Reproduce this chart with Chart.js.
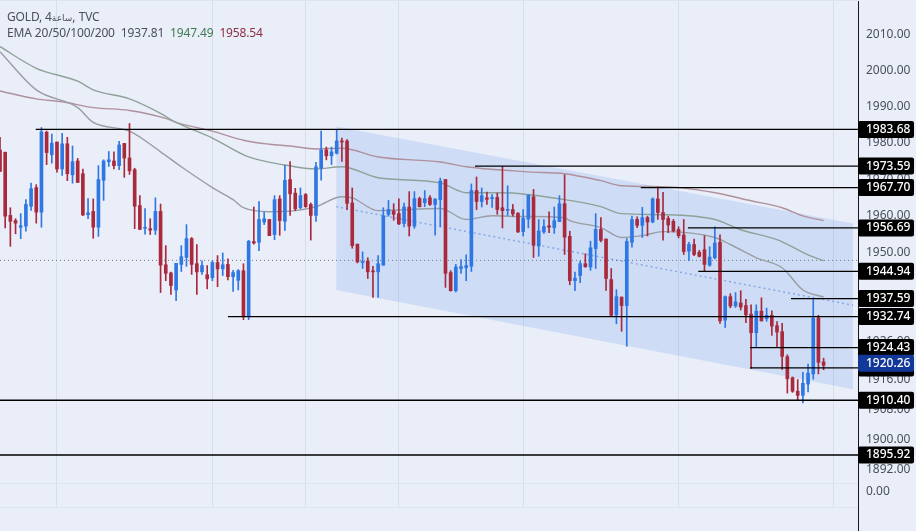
<!DOCTYPE html>
<html>
<head>
<meta charset="utf-8">
<title>GOLD</title>
<script src="https://cdn.jsdelivr.net/npm/chart.js@4"></script>
<style>
    html, body { margin: 0; padding: 0; background: #e9eef9; overflow: hidden; }
    #wrap { position: relative; width: 916px; height: 531px; }
    canvas { display: block; }
    .head { position: absolute; left: 7px; font: 12px "Noto Sans", sans-serif; color: #4a4f5c; white-space: pre; letter-spacing: -0.15px; }
    .head small { font-size: 9px; font-family: "DejaVu Sans", sans-serif; }
</style>
</head>
<body>
<div id="wrap">
    <canvas id="goldChart" width="916" height="531"></canvas>
    <div class="head" style="top:8px">GOLD, 4<small>ساعة</small>, TVC</div>
    <div class="head" style="top:24px">EMA 20/50/100/200  1937.81  <span style="color:#3f7a52">1947.49</span>  <span style="color:#8b2f44">1958.54</span></div>
</div>
<script>
// candles
const opens = [1978.0,1977.4,1960.1,1958.7,1956.9,1957.2,1962.6,1967.7,1961.0,1982.9,1976.7,1980.2,1972.8,1979.7,1971.2,1975.0,
    1971.5,1960.3,1961.2,1956.9,1969.7,1974.8,1975.0,1973.7,1979.8,1975.8,1972.6,1962.8,1956.6,1956.5,1956.1,1961.2,
    1946.7,1944.5,1939.9,1946.8,1948.7,1953.8,1947.0,1944.8,1944.0,1943.2,1947.3,1945.6,1946.8,1943.5,1942.5,1945.1,
    1932.7,1953.0,1952.8,1958.3,1959.0,1954.9,1964.6,1958.5,1969.9,1966.2,1962.2,1965.8,1963.1,1960.1,1973.0,1978.0,
    1976.4,1977.1,1980.5,1980.5,1963.5,1952.3,1947.3,1947.7,1945.0,1944.8,1946.6,1960.4,1961.3,1960.6,1957.9,1962.4,
    1957.2,1964.7,1963.6,1964.9,1963.1,1964.4,1969.9,1944.6,1939.7,1945.7,1945.9,1946.3,1966.9,1963.9,1964.9,1964.7,
    1965.0,1962.2,1961.5,1961.7,1960.7,1955.7,1959.1,1965.2,1951.8,1955.6,1957.3,1956.8,1958.4,1963.3,1954.4,1942.4,
    1943.8,1947.0,1946.1,1951.1,1956.3,1953.7,1942.7,1933.2,1938.0,1935.7,1952.8,1959.0,1957.4,1959.5,1958.3,1964.6,
    1960.9,1959.3,1958.5,1956.3,1954.8,1950.4,1952.2,1950.1,1950.8,1946.6,1948.6,1952.8,1931.8,1938.1,1935.6,1936.4,
    1935.7,1933.4,1928.4,1934.2,1932.2,1933.1,1930.3,1928.7,1922.0,1916.4,1912.8,1911.7,1914.7,1917.4,1932.4,1920.6];
const highs = [1981.5,1977.4,1962.2,1959.2,1960.6,1964.4,1968.9,1968.5,1984.2,1983.2,1982.4,1980.2,1982.6,1981.5,1979.1,1975.7,
    1972.8,1964.7,1964.6,1973.7,1975.3,1977.6,1977.5,1980.4,1979.8,1985.3,1973.0,1965.5,1962.0,1959.2,1964.9,1963.2,
    1951.9,1944.7,1947.1,1951.9,1957.6,1954.1,1952.2,1947.8,1946.5,1947.8,1949.2,1949.9,1948.3,1945.2,1945.4,1947.0,
    1953.3,1962.4,1963.9,1961.0,1959.0,1965.5,1965.5,1973.8,1974.8,1967.5,1967.6,1966.1,1963.5,1974.6,1983.2,1978.8,
    1978.8,1983.7,1981.3,1980.9,1967.6,1952.3,1950.2,1948.6,1946.3,1949.2,1962.2,1964.2,1963.3,1964.6,1963.5,1966.6,
    1966.6,1965.1,1966.9,1965.5,1964.6,1970.3,1969.9,1945.1,1946.8,1948.1,1949.4,1968.7,1970.6,1967.6,1966.5,1965.8,
    1966.2,1973.5,1968.2,1963.1,1960.9,1961.7,1965.8,1967.2,1959.0,1959.0,1961.1,1962.4,1965.5,1971.2,1955.8,1944.7,
    1947.7,1949.7,1953.1,1960.6,1959.5,1953.7,1945.7,1940.0,1938.0,1953.8,1959.9,1959.7,1962.3,1959.9,1964.9,1967.9,
    1966.4,1959.9,1959.0,1957.0,1959.0,1952.8,1953.7,1950.6,1954.6,1951.6,1957.0,1954.8,1938.3,1938.9,1939.2,1939.7,
    1937.4,1935.9,1935.9,1937.8,1935.0,1934.3,1931.4,1930.9,1922.5,1916.6,1915.9,1917.8,1920.0,1937.7,1933.1,1921.6];
const lows = [1972.1,1956.7,1951.7,1955.1,1953.8,1955.8,1961.5,1958.0,1956.9,1974.0,1974.4,1971.9,1971.0,1969.6,1968.9,1969.1,
    1960.1,1959.2,1953.9,1954.4,1964.2,1973.5,1972.8,1972.6,1970.5,1971.3,1956.5,1956.2,1955.0,1954.9,1954.9,1939.2,
    1942.4,1938.7,1937.0,1944.9,1946.3,1944.1,1938.7,1944.1,1940.2,1942.4,1940.8,1943.8,1942.6,1939.5,1939.9,1931.9,
    1931.9,1952.3,1950.5,1957.6,1954.6,1953.5,1954.7,1956.0,1960.1,1961.4,1961.9,1962.3,1953.4,1958.5,1969.7,1975.3,
    1974.0,1976.9,1974.9,1961.7,1951.2,1947.2,1945.7,1943.0,1937.9,1937.9,1946.6,1959.9,1958.8,1957.6,1957.0,1954.5,
    1956.6,1962.4,1962.5,1962.8,1954.7,1957.0,1940.6,1939.6,1939.4,1944.4,1942.4,1944.9,1961.7,1962.4,1963.1,1962.3,
    1960.4,1956.7,1960.1,1959.9,1955.5,1954.5,1956.7,1948.7,1949.0,1955.2,1955.4,1955.2,1958.4,1949.5,1941.3,1939.7,
    1941.9,1946.0,1945.2,1945.7,1952.9,1939.8,1932.9,1930.8,1928.8,1924.8,1951.5,1956.8,1954.1,1954.5,1958.1,1959.0,
    1953.4,1955.4,1955.6,1954.0,1949.5,1947.8,1949.2,1948.8,1944.9,1946.3,1948.3,1930.9,1929.8,1935.1,1935.2,1934.5,
    1931.1,1918.9,1924.4,1931.5,1931.5,1927.7,1924.5,1918.6,1912.3,1912.5,1910.4,1909.7,1912.6,1916.0,1917.4,1918.5];
const closes = [1972.1,1959.9,1958.5,1958.0,1957.3,1963.1,1967.4,1961.0,1983.0,1977.3,1979.9,1972.8,1979.7,1971.5,1974.8,1969.1,
    1960.2,1960.8,1956.9,1969.9,1975.0,1975.3,1973.7,1979.4,1975.8,1972.3,1962.6,1956.3,1956.8,1956.1,1961.2,1946.6,
    1944.4,1941.1,1947.1,1948.9,1953.8,1946.8,1944.8,1946.5,1942.9,1947.3,1945.6,1946.7,1943.5,1944.6,1945.1,1932.7,
    1953.1,1952.6,1959.0,1959.2,1954.6,1964.4,1958.7,1969.7,1966.0,1961.9,1965.5,1962.5,1960.1,1973.4,1978.0,1976.4,
    1977.5,1980.5,1980.2,1963.4,1951.9,1947.5,1947.6,1944.8,1944.8,1947.0,1960.0,1961.7,1960.4,1957.8,1962.4,1957.2,
    1964.7,1962.5,1964.7,1963.1,1964.6,1969.5,1944.4,1939.7,1946.1,1946.2,1946.5,1966.9,1963.9,1965.5,1964.5,1965.0,
    1961.7,1961.4,1961.7,1960.5,1955.6,1959.3,1965.6,1952.0,1955.9,1957.1,1956.9,1958.7,1963.3,1954.2,1942.4,1943.1,
    1947.0,1946.2,1951.3,1956.3,1953.3,1943.0,1933.1,1938.1,1935.7,1953.0,1959.0,1957.4,1959.5,1958.3,1964.6,1960.9,
    1959.0,1957.5,1955.9,1954.6,1950.3,1952.2,1949.5,1949.0,1946.8,1948.8,1952.6,1931.6,1938.1,1935.6,1936.7,1935.3,
    1933.2,1928.4,1934.2,1931.6,1933.1,1930.2,1928.6,1922.1,1916.1,1912.8,1911.7,1914.9,1917.6,1932.3,1920.5,1919.7];

// EMA lines: candle number and price at each bend
const ema20Idx = [0,7,15,18,25,31,35,41,45,47,52,57,61,66,68,73,85,90,95,101,109,110,116,120,124,128,138,141,146,151,155,159];
const ema20 = [2005.2,1994.6,1989.7,1985.6,1983.2,1977.5,1973.4,1967.7,1964.4,1962.2,1961.1,1961.4,1962.5,1965.2,1964.9,1961.4,
    1962.0,1959.0,1960.0,1959.8,1959.5,1958.7,1956.8,1954.1,1954.6,1955.7,1954.1,1952.2,1948.6,1945.9,1939.9,1938.0];
const ema50Idx = [0,7,15,18,25,31,34,41,48,55,61,66,73,85,90,97,109,116,120,128,138,143,150,156,159];
const ema50 = [2006.6,2000.6,1997.0,1994.6,1992.1,1988.1,1985.6,1981.3,1976.1,1973.9,1972.8,1973.4,1970.4,1969.0,1966.3,1966.3,
    1964.4,1962.5,1960.6,1960.3,1959.0,1956.2,1953.5,1949.4,1947.8];
const ema200Idx = [0,7,12,18,25,32,34,41,47,52,56,61,66,73,85,90,102,109,116,120,129,138,145,151,155,159];
const ema200 = [1994.3,1992.1,1991.3,1989.7,1988.9,1986.7,1985.6,1983.2,1980.7,1979.6,1979.1,1978.3,1978.5,1976.1,1974.7,1973.4,
    1972.0,1971.5,1969.6,1968.2,1967.9,1966.3,1964.1,1962.2,1960.0,1958.7];

// regression channel
const channelIdx = [64.9, 164.7];
const channelTop = [1984.5, 1957.9];
const channelMid = [1962.5, 1935.8];
const channelBottom = [1939.9, 1913.3];

// horizontal levels and the candle where each one starts
const levelPrices = [1983.68,1973.59,1967.70,1956.69,1944.94,1937.59,1932.74,1924.43,1919.00,1910.40,1895.92];
const levelStarts = [6.9,91.7,123.7,132.8,134.8,152.7,44,144.8,144.8,0,0];
const lastPrice = 1920.26;
const dottedPrice = 1947.9;

// price axis, blank labels are the pane borders
const yMin = 1882.27;
const yMax = 2019.67;
const tickValues = [yMax,2010,2000,1990,1980,1970,1960,1950,1926,1916,1908,1900,1892,1888.5,1886.4,yMin];
const tickLabels = ['','2010.00','2000.00','1990.00','1980.00','1970.00','1960.00','1950.00','1926.00','1916.00','1908.00','1900.00','1892.00','','0.00',''];
const gridIdx = [11,41,59,77,101,131,161];

const xMax = 165.64;
const RED = '#a82a3c';
const BLUE = '#2f78e4';

function toPoints(xs, ys) {
    return xs.map((x, i) => ({ x: x, y: ys[i] }));
}

const colors = opens.map((o, i) => (closes[i] >= o ? BLUE : RED));

function lineSet(data, color, extra) {
    return Object.assign({
        type: 'line',
        data: data,
        borderColor: color,
        borderWidth: 1,
        pointRadius: 0,
        tension: 0,
        fill: false,
        order: 1,
    }, extra);
}

const datasets = [
    lineSet(toPoints(channelIdx, channelTop), 'transparent', { fill: '+1', backgroundColor: 'rgba(41,110,235,0.14)', order: 10, borderWidth: 0 }),
    lineSet(toPoints(channelIdx, channelBottom), 'transparent', { order: 10, borderWidth: 0 }),
    lineSet(toPoints(channelIdx, channelMid), '#86a9e6', { borderDash: [2, 3], borderWidth: 1.5, order: 9 }),
    lineSet(toPoints([0, xMax], [dottedPrice, dottedPrice]), '#6f7480', { borderDash: [1, 3], order: 8 }),
    lineSet(toPoints(ema20Idx, ema20), '#9a9da3', { borderWidth: 1.4, order: 7, cubicInterpolationMode: 'monotone' }),
    lineSet(toPoints(ema50Idx, ema50), '#8ea398', { borderWidth: 1.4, order: 7, cubicInterpolationMode: 'monotone' }),
    lineSet(toPoints(ema200Idx, ema200), '#b0909c', { borderWidth: 1.4, order: 7, cubicInterpolationMode: 'monotone' }),
    {
        type: 'bar',
        data: lows.map((l, i) => ({ x: i, y: [l, highs[i]] })),
        backgroundColor: colors,
        barThickness: 1,
        grouped: false,
        order: 6,
    },
    {
        type: 'bar',
        data: opens.map((o, i) => ({ x: i, y: [o, closes[i]] })),
        backgroundColor: colors,
        barThickness: 3,
        minBarLength: 1,
        grouped: false,
        order: 5,
    },
];

levelPrices.forEach((p, i) => {
    datasets.push(lineSet(toPoints([levelStarts[i], xMax], [p, p]), '#000000', { order: 2, borderWidth: 1.3 }));
});

// black and blue price boxes, plus the axis line that runs past the plot
const priceBoxes = {
    id: 'priceBoxes',
    afterDraw(chart) {
        const ctx = chart.ctx;
        const yScale = chart.scales.y;
        const left = chart.chartArea.right;
        ctx.save();
        ctx.strokeStyle = '#131722';
        ctx.lineWidth = 1;
        ctx.beginPath();
        ctx.moveTo(left + 0.5, 1);
        ctx.lineTo(left + 0.5, chart.height);
        ctx.stroke();
        ctx.font = '500 12px "Noto Sans", sans-serif';
        ctx.textBaseline = 'middle';
        const drawBox = (price, fill) => {
            const y = yScale.getPixelForValue(price);
            ctx.fillStyle = fill;
            ctx.beginPath();
            ctx.roundRect(left, y - 8.5, 56, 17, 2);
            ctx.fill();
            ctx.fillStyle = '#ffffff';
            ctx.fillText(price.toFixed(2), left + 8, y);
        };
        levelPrices.forEach(p => drawBox(p, '#000000'));
        drawBox(lastPrice, '#12389a');
        ctx.restore();
    },
};

new Chart(document.getElementById('goldChart').getContext('2d'), {
    type: 'bar',
    data: { datasets: datasets },
    plugins: [priceBoxes],
    options: {
        responsive: false,
        animation: false,
        layout: { padding: { bottom: 24 } },
        plugins: { legend: { display: false }, tooltip: { enabled: false } },
        scales: {
            x: {
                type: 'linear',
                offset: false,
                min: 0,
                max: xMax,
                border: { display: false },
                ticks: { display: false },
                grid: { offset: false, color: '#d6ddeb', drawTicks: false },
                afterBuildTicks(scale) {
                    scale.ticks = gridIdx.map(v => ({ value: v }));
                },
                afterFit(scale) {
                    scale.height = 0;
                },
            },
            y: {
                type: 'logarithmic',
                position: 'right',
                min: yMin,
                max: yMax,
                border: { display: false },
                grid: {
                    drawTicks: false,
                    color: ctx => (ctx.tick && tickLabels[ctx.index] === '' ? '#dde3f0' : 'transparent'),
                },
                ticks: {
                    autoSkip: false,
                    padding: 8,
                    color: '#4a4f5c',
                    font: { family: '"Noto Sans", sans-serif', size: 12 },
                    callback: (v, i) => tickLabels[i],
                },
                afterBuildTicks(scale) {
                    scale.ticks = tickValues.map(v => ({ value: v }));
                },
                afterFit(scale) {
                    scale.width = 58;
                    scale.paddingTop = 0;
                    scale.paddingBottom = 0;
                },
            },
        },
    },
});
</script>
</body>
</html>
